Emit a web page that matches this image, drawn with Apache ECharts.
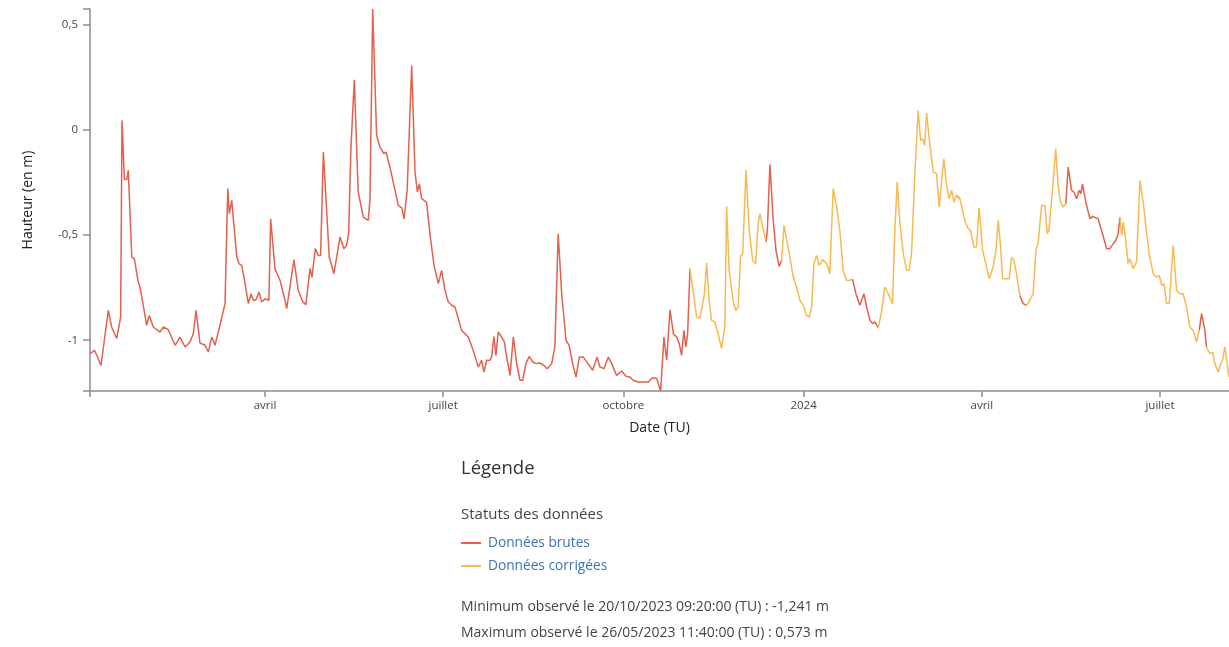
<!DOCTYPE html>
<html>
<head>
<meta charset="utf-8">
<script src="https://cdn.jsdelivr.net/npm/echarts@6/dist/echarts.min.js"></script>
<style>
  html, body { margin: 0; padding: 0; background: #fff; }
  #chart { width: 1229px; height: 647px; }
</style>
</head>
<body>
<div id="chart"></div>
<script>
// ---- Data (days since 2023-01-01, water height in m) ----
const startDate = '2023-01-01';
const days = [
  0.7, 2.9, 4.1, 6.3, 7.2, 10.0, 11.7, 14.3, 15.1, 16.3, 17.0, 18.2, 19.4, 20.2, 22.0, 23.3, 25.3, 26.2, 29.6, 30.9,
  33.0, 36.4, 37.3, 38.1, 40.6, 44.1, 46.6, 47.5, 49.2, 51.7, 53.4, 54.8, 56.8, 59.4, 61.1, 62.8, 64.5, 67.0, 67.9, 69.6,
  71.0, 71.8, 73.0, 75.6, 76.7, 78.1, 79.4, 80.3, 81.5, 82.9, 84.0, 85.3, 86.9, 88.3, 90.0, 92.0, 92.9, 95.1, 97.7, 100.2,
  101.1, 101.9, 104.8, 107.0, 109.3, 110.9, 113.0, 114.0, 115.7, 117.2, 118.4, 119.8, 122.8, 125.2, 126.1, 128.3, 130.3, 131.7, 132.7, 133.9,
  135.6, 137.6, 138.5, 140.2, 142.7, 143.6, 145.0, 147.0, 148.7, 150.7, 151.8, 153.8, 156.4, 158.1, 159.8, 161.0, 162.6, 164.9, 166.6, 167.8,
  168.8, 170.0, 172.5, 174.2, 176.3, 177.3, 178.5, 180.2, 181.9, 183.6, 185.3, 187.0, 190.4, 193.8, 196.3, 198.9, 200.6, 201.8, 203.2, 204.9,
  205.7, 206.9, 207.9, 209.1, 210.8, 212.2, 213.4, 215.1, 216.8, 218.5, 220.2, 221.6, 223.2, 224.9, 226.7, 228.7, 230.4, 232.4, 234.1, 236.4,
  238.0, 239.7, 241.5, 243.7, 245.3, 247.1, 248.8, 250.5, 252.5, 255.0, 257.3, 259.6, 261.0, 263.1, 265.3, 267.0, 269.5, 272.1, 274.3, 276.3,
  278.0, 280.6, 283.1, 285.7, 287.9, 290.0, 292.0, 293.7, 295.1, 295.9, 296.8, 298.5, 300.2, 301.5, 302.7, 303.9, 304.9, 305.8, 307.0, 307.8,
  310.4, 312.0, 312.9, 314.3, 315.5, 316.8, 318.0, 319.7, 321.4, 323.1, 324.0, 324.8, 325.7, 327.0, 329.1, 330.4, 331.6, 332.8, 333.9, 335.6,
  337.2, 339.0, 340.5, 341.8, 342.7, 344.1, 345.8, 346.5, 347.8, 349.5, 350.9, 352.5, 353.8, 355.0, 356.0, 357.7, 359.7, 361.4, 363.1, 365.2,
  366.5, 367.9, 369.1, 370.3, 371.6, 373.0, 374.7, 376.8, 378.4, 380.1, 381.9, 383.5, 385.2, 387.0, 388.6, 390.0, 391.7, 393.7, 394.6, 395.8,
  397.2, 398.9, 400.2, 401.4, 403.1, 404.8, 406.5, 408.2, 410.4, 411.6, 412.8, 414.2, 415.9, 417.6, 418.9, 420.1, 421.8, 423.5, 424.7, 425.8,
  426.8, 427.8, 429.5, 431.2, 432.9, 434.2, 436.6, 438.0, 439.3, 440.6, 441.7, 443.1, 444.8, 447.3, 449.0, 450.3, 451.9, 453.3, 454.6, 456.4,
  457.6, 459.8, 461.8, 463.2, 464.4, 465.6, 466.6, 468.6, 470.0, 471.2, 472.4, 473.7, 475.4, 477.1, 478.8, 480.5, 482.2, 483.6, 484.8, 486.5,
  488.2, 489.4, 490.2, 492.1, 493.7, 495.0, 496.2, 497.5, 498.9, 500.1, 501.0, 501.8, 503.0, 504.4, 505.7, 506.6, 507.4, 509.1, 511.2, 512.5,
  515.4, 517.6, 519.7, 521.4, 523.1, 524.4, 525.6, 526.5, 527.4, 528.2, 529.5, 530.7, 531.6, 533.3, 535.0, 536.7, 538.4, 539.8, 541.4, 543.5,
  545.2, 546.6, 547.8, 549.0, 550.3, 551.7, 553.7, 555.4, 557.1, 558.8, 560.5, 562.2, 563.9, 565.6, 567.0, 568.2, 569.9, 570.7, 572.4, 573.8,
  575.0, 576.7, 577.6, 578.9, 580.1, 581.3, 582.1
];
const heights = [
  -1.064, -1.048, -1.07, -1.12, -1.12, -0.858, -0.937, -0.992, -0.997, -0.89, 0.044, -0.237, -0.237, -0.193, -0.605, -0.613, -0.724, -0.747, -0.929, -0.882,
  -0.937, -0.961, -0.965, -0.937, -0.95, -1.024, -0.985, -0.99, -1.032, -1.008, -0.969, -0.858, -1.013, -1.024, -1.056, -0.985, -1.024, -0.929, -0.937, -0.826,
  -0.28, -0.399, -0.336, -0.605, -0.636, -0.644, -0.708, -0.708, -0.826, -0.779, -0.81, -0.81, -0.771, -0.818, -0.803, -0.81, -0.423, -0.66, -0.716, -0.81,
  -0.85, -0.85, -0.617, -0.763, -0.818, -0.831, -0.66, -0.70, -0.565, -0.597, -0.597, -0.106, -0.605, -0.684, -0.684, -0.51, -0.565, -0.549, -0.494, -0.083,
  0.237, -0.296, -0.304, -0.415, -0.431, -0.336, 0.573, -0.027, -0.083, -0.114, -0.106, -0.178, -0.288, -0.36, -0.371, -0.423, -0.288, 0.305, -0.201, -0.296,
  -0.257, -0.328, -0.344, -0.494, -0.644, -0.636, -0.731, -0.668, -0.763, -0.818, -0.834, -0.842, -0.953, -0.985, -1.048, -1.127, -1.095, -1.151, -1.095, -1.095,
  -1.08, -0.982, -1.072, -0.961, -0.985, -1.008, -1.08, -1.167, -0.985, -1.111, -1.19, -1.19, -1.111, -1.077, -1.103, -1.111, -1.108, -1.119, -1.135, -1.111,
  -1.032, -0.494, -0.779, -1.0, -1.024, -1.111, -1.175, -1.08, -1.08, -1.111, -1.143, -1.08, -1.127, -1.135, -1.08, -1.111, -1.167, -1.146, -1.171, -1.175,
  -1.19, -1.198, -1.198, -1.198, -1.178, -1.182, -1.241, -0.985, -1.095, -1.095, -0.855, -0.969, -0.985, -1.016, -1.072, -0.953, -1.032, -0.969, -0.66, -0.66,
  -0.89, -0.897, -0.9, -0.787, -0.633, -0.81, -0.905, -0.913, -0.969, -1.04, -1.04, -0.937, -0.364, -0.668, -0.818, -0.858, -0.842, -0.602, -0.589, -0.19,
  -0.478, -0.621, -0.636, -0.446, -0.399, -0.462, -0.534, -0.478, -0.165, -0.431, -0.573, -0.649, -0.621, -0.454, -0.446, -0.589, -0.70, -0.747, -0.81, -0.842,
  -0.882, -0.89, -0.842, -0.636, -0.597, -0.644, -0.617, -0.636, -0.684, -0.28, -0.367, -0.478, -0.668, -0.716, -0.715, -0.71, -0.779, -0.834, -0.834, -0.779,
  -0.842, -0.905, -0.921, -0.913, -0.94, -0.866, -0.747, -0.779, -0.826, -0.478, -0.249, -0.446, -0.589, -0.668, -0.668, -0.589, -0.209, 0.092, -0.051, -0.043,
  -0.075, 0.079, -0.075, -0.201, -0.209, -0.367, -0.138, -0.264, -0.328, -0.288, -0.344, -0.312, -0.328, -0.431, -0.47, -0.478, -0.557, -0.557, -0.371, -0.573,
  -0.621, -0.708, -0.652, -0.573, -0.431, -0.557, -0.708, -0.708, -0.708, -0.605, -0.621, -0.684, -0.787, -0.826, -0.834, -0.81, -0.779, -0.573, -0.534, -0.36,
  -0.36, -0.494, -0.478, -0.288, -0.09, -0.272, -0.344, -0.367, -0.352, -0.178, -0.17, -0.288, -0.296, -0.328, -0.288, -0.304, -0.257, -0.344, -0.423, -0.412,
  -0.423, -0.494, -0.565, -0.565, -0.541, -0.526, -0.494, -0.415, -0.502, -0.439, -0.526, -0.636, -0.613, -0.66, -0.629, -0.241, -0.344, -0.462, -0.589, -0.684,
  -0.70, -0.692, -0.739, -0.731, -0.826, -0.826, -0.549, -0.763, -0.779, -0.779, -0.842, -0.937, -0.953, -1.008, -0.953, -0.874, -0.953, -1.032, -1.064, -1.056,
  -1.111, -1.151, -1.119, -1.095, -1.032, -1.111, -1.175
];
// Periods (in days) where the data status is "Données brutes"; elsewhere "Données corrigées"
const rawPeriods = [[0, 307.0], [345.8, 353.8], [390.0, 403.1], [443.1, 444.8], [475.4, 478.8], [498.9, 526.5], [567.0, 570.7]];
const axisStartDay = 0.66;
const axisEndDay = 582.2;
const xTickDates = ['2023-04-01', '2023-07-01', '2023-10-01', '2024-01-01', '2024-04-01', '2024-07-01'];
const xTickLabels = ['avril', 'juillet', 'octobre', '2024', 'avril', 'juillet'];
const yTicks = [-1, -0.5, 0, 0.5];
const yTickLabels = ['-1', '-0,5', '0', '0,5'];
const yMin = -1.241, yMax = 0.573;

// ---- Build ----
function localDate(s) { const p = s.split('-').map(Number); return new Date(p[0], p[1] - 1, p[2]).getTime(); }
const BASE = localDate(startDate);
const DAY = 86400000;
const toTime = d => BASE + d * DAY;
const n = days.length;
const inPeriod = d => rawPeriods.findIndex(([a, b]) => d >= a - 1e-9 && d <= b + 1e-9);
const rawPt = new Array(n).fill(false), corPt = new Array(n).fill(false);
for (let i = 0; i < n - 1; i++) {
  const p1 = inPeriod(days[i]), p2 = inPeriod(days[i + 1]);
  if (p1 >= 0 && p1 === p2) { rawPt[i] = rawPt[i + 1] = true; }
  else { corPt[i] = corPt[i + 1] = true; }
}
const rawData = days.map((d, i) => [toTime(d), rawPt[i] ? heights[i] : null]);
const corData = days.map((d, i) => [toTime(d), corPt[i] ? heights[i] : null]);
const xTickTimes = xTickDates.map(localDate);
const xMin = toTime(axisStartDay), xMax = toTime(axisEndDay);

const FONT = "'Open Sans', 'Noto Sans', sans-serif";
const RED = '#e4604f', ORANGE = '#f6ba52';

const chart = echarts.init(document.getElementById('chart'), null, { renderer: 'canvas' });
chart.setOption({
  animation: false,
  backgroundColor: '#fff',
  textStyle: { fontFamily: FONT },
  grid: { left: 90, right: 0, top: 9, bottom: 256, containLabel: false, outerBoundsMode: 'none' },
  xAxis: {
    type: 'value',
    min: xMin, max: xMax,
    name: 'Date (TU)', nameLocation: 'middle', nameGap: 30,
    nameTextStyle: { color: '#222', fontSize: 14, fontFamily: FONT },
    axisLine: { show: true, onZero: false, lineStyle: { color: '#8c8c8c', width: 1.5 } },
    axisTick: { show: true, length: 6, lineStyle: { color: '#8c8c8c', width: 1.5 }, customValues: [xMin].concat(xTickTimes) },
    axisLabel: {
      color: '#444', fontSize: 11.5, margin: 9, fontFamily: FONT,
      customValues: xTickTimes,
      formatter: v => { const k = xTickTimes.findIndex(t => Math.abs(t - v) < DAY / 2); return k >= 0 ? xTickLabels[k] : ''; }
    },
    splitLine: { show: false }
  },
  yAxis: {
    type: 'value',
    min: yMin, max: yMax,
    name: 'Hauteur (en m)', nameLocation: 'middle', nameGap: 55, nameRotate: 90,
    nameTextStyle: { color: '#222', fontSize: 14, fontFamily: FONT },
    axisLine: { show: true, onZero: false, lineStyle: { color: '#8c8c8c', width: 1.5 } },
    axisTick: { show: true, length: 7, lineStyle: { color: '#8c8c8c', width: 1.5 }, customValues: [yMin].concat(yTicks, [yMax]) },
    axisLabel: {
      color: '#444', fontSize: 11.5, margin: 12, fontFamily: FONT,
      customValues: yTicks,
      formatter: v => { const k = yTicks.findIndex(t => Math.abs(t - v) < 1e-6); return k >= 0 ? yTickLabels[k] : ''; }
    },
    splitLine: { show: false }
  },
  legend: {
    orient: 'vertical', left: 461, top: 536, padding: 0,
    icon: 'rect',
    itemWidth: 20, itemHeight: 2, itemGap: 9,
    textStyle: { color: '#3b73b9', fontSize: 13.7, fontFamily: FONT, lineHeight: 14, padding: [0, 0, 0, 2] },
    data: ['Données brutes', 'Données corrigées']
  },
  series: [
    { name: 'Données brutes', type: 'line', data: rawData, symbol: 'none', showSymbol: false, connectNulls: false,
      lineStyle: { color: RED, width: 1.5 }, itemStyle: { color: RED } },
    { name: 'Données corrigées', type: 'line', data: corData, symbol: 'none', showSymbol: false, connectNulls: false,
      lineStyle: { color: ORANGE, width: 1.5 }, itemStyle: { color: ORANGE } }
  ],
  graphic: [
    { type: 'text', x: 461, y: 469, style: { text: 'Légende', fill: '#333', font: "18.5px " + FONT, verticalAlign: 'middle' } },
    { type: 'text', x: 461, y: 515, style: { text: 'Statuts des données', fill: '#444', font: "15px " + FONT, verticalAlign: 'middle' } },
    { type: 'text', x: 461, y: 607, style: { text: 'Minimum observé le 20/10/2023 09:20:00 (TU) : -1,241 m', fill: '#444', font: "14px " + FONT, verticalAlign: 'middle' } },
    { type: 'text', x: 461, y: 633, style: { text: 'Maximum observé le 26/05/2023 11:40:00 (TU) : 0,573 m', fill: '#444', font: "14px " + FONT, verticalAlign: 'middle' } }
  ]
});
</script>
</body>
</html>
